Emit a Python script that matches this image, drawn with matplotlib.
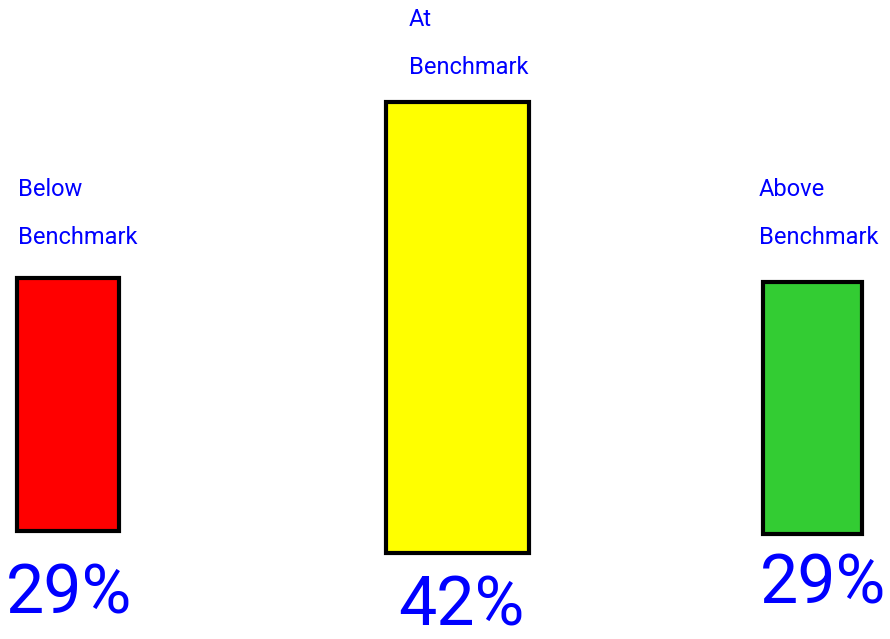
import matplotlib
matplotlib.use("Agg")
import matplotlib.pyplot as plt

# benchmark split
labels = ["Below\nBenchmark", "At\nBenchmark", "Above\nBenchmark"]
values = [29, 42, 29]
value_text = ["29%", "42%", "29%"]
colors = ["#ff0000", "#ffff00", "#33cc33"]

W, H = 890, 639
fig = plt.figure(figsize=(W / 100, H / 100), dpi=100)
fig.patch.set_facecolor("white")

font = ["Roboto", "DejaVu Sans"]
blue = "#0000ff"

# each bar sits in its own frame (left, top, right, bottom in px)
boxes = [(17, 278, 119, 531), (386, 102, 529, 553), (763, 282, 862, 534)]
label_pos = [(18, 178), (409, 8), (759, 178)]
pct_pos = [(69, 562), (461, 574), (823, 552)]

for i, v in enumerate(values):
    l, t, r, b = boxes[i]
    ax = fig.add_axes([l / W, 1 - b / H, (r - l) / W, (b - t) / H])
    ax.bar(0, v, width=1, color=colors[i], edgecolor="black",
           linewidth=3, clip_on=False)
    ax.set_xlim(-0.5, 0.5)
    ax.set_ylim(0, v)
    ax.axis("off")

    x, y = label_pos[i]
    fig.text(x / W, 1 - y / H, labels[i], color=blue, family=font,
             fontsize=17, linespacing=2.4, ha="left", va="top")
    x, y = pct_pos[i]
    fig.text(x / W, 1 - y / H, value_text[i], color=blue, family=font,
             fontsize=49, ha="center", va="top")

fig.savefig("out.png", dpi=100)
